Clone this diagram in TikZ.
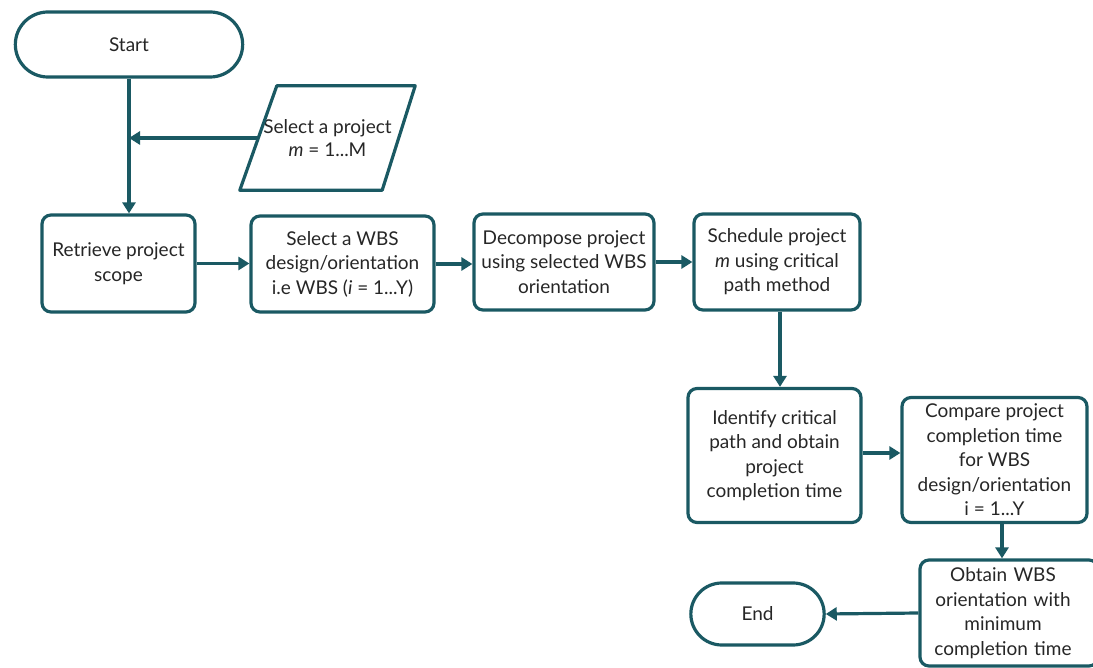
\documentclass[tikz,border=0pt]{standalone}
\usepackage{fontspec}
\setmainfont{Lato}
\usetikzlibrary{shapes.misc,arrows.meta}
\definecolor{tealc}{HTML}{1A5963}
\begin{document}
\begin{tikzpicture}[x=1pt,y=-1pt,
  every node/.style={font=\fontsize{19}{24.5}\selectfont, text=black!85},
  box/.style={draw=tealc, line width=3.2pt, rounded corners=9pt, align=center, inner sep=2pt},
  pill/.style={draw=tealc, line width=3.2pt, rounded rectangle, align=center},
  paratext/.style={align=center, inner sep=0pt},
  conn/.style={draw=tealc, line width=3.2pt, -{Triangle[length=11pt,width=13pt]}},
  line/.style={draw=tealc, line width=3.2pt, line join=round}]
\clip (0,0) rectangle (1093,668);
\node[pill, minimum width=234pt, minimum height=65pt] (start) at (129,44.5) {Start};
\node[paratext, minimum width=175pt, minimum height=104pt] (sel) at (327.5,138) {Select a project\\[-1pt]\textit{m} = 1...M};
\draw[line] ([xshift=37pt]sel.north west) -- (sel.north east) -- ([xshift=-33pt]sel.south east) -- (sel.south west) -- cycle;
\coordinate (selw) at ([xshift=18.5pt]sel.west);
\node[box, minimum width=153pt, minimum height=97pt] (retr) at (118.5,263.5) {Retrieve project\\scope};
\node[box, minimum width=183pt, minimum height=96pt] (wbs) at (342.5,264) {Select a WBS\\design/orientation\\i.e WBS (\textit{i} = 1...Y)};
\node[box, minimum width=180pt, minimum height=96pt] (dec) at (564,262) {Decompose project\\using selected WBS\\orientation};
\node[box, minimum width=166pt, minimum height=96pt] (sch) at (777,262) {Schedule project\\\textit{m} using critical\\path method};
\node[box, minimum width=173pt, minimum height=134pt] (idc) at (774.5,455.5) {Identify critical\\path and obtain\\project\\completion time};
\node[box, minimum width=185pt, minimum height=125pt] (cmp) at (994.5,460) {Compare project\\completion time\\for WBS\\design/orientation\\i = 1...Y};
\node[box, minimum width=178pt, minimum height=106pt, text width=166pt, align=center] (obt) at (1009,613) {\hspace*{-12pt}Obtain WBS\\\hspace*{-12pt}orientation with\\\hspace*{-12pt}minimum\\\hspace*{-12pt}completion time};
\node[pill, minimum width=140pt, minimum height=62pt] (end) at (757.5,614) {End};
\coordinate (j) at (start.south |- selw);
\draw[conn] (start.south) -- (start.south |- retr.north);
\draw[conn] (selw) -- (j);
\draw[conn] (retr.east) -- (retr.east -| wbs.west);
\draw[conn] (wbs.east) -- (wbs.east -| dec.west);
\draw[conn] (dec.east) -- (dec.east -| sch.west);
\draw[conn] ([xshift=3pt]sch.south) -- ([xshift=3pt]sch.south |- idc.north);
\draw[conn] (idc.east |- 0,453) -- (cmp.west |- 0,453);
\draw[conn] ([xshift=7.5pt]cmp.south) -- ([xshift=7.5pt]cmp.south |- obt.north);
\draw[conn] (obt.west) -- (end.east);
\end{tikzpicture}
\end{document}
